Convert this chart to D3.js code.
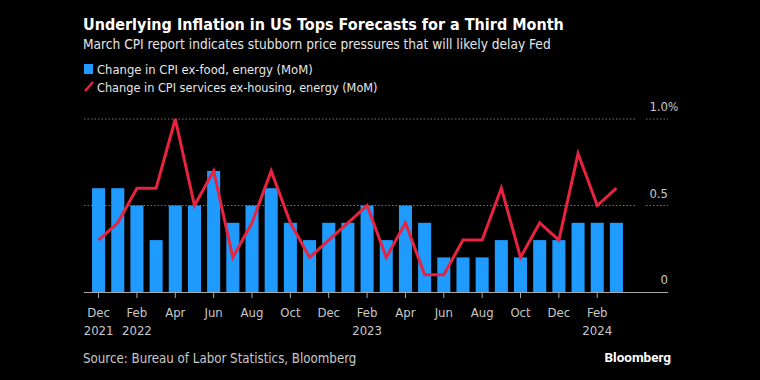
<!DOCTYPE html>
<html>
<head>
<meta charset="utf-8">
<script src="https://cdn.jsdelivr.net/npm/d3@7/dist/d3.min.js"></script>
<style>
  html, body { margin: 0; padding: 0; background: #000; }
  svg { display: block; }
  text { font-family: "DejaVu Sans Condensed", "DejaVu Sans", sans-serif; }
</style>
</head>
<body>
<svg id="chart" width="760" height="380"></svg>
<script>
// Months Dec 2021 .. Mar 2024
const months = [
  '2021-12', '2022-01', '2022-02', '2022-03', '2022-04', '2022-05', '2022-06',
  '2022-07', '2022-08', '2022-09', '2022-10', '2022-11', '2022-12',
  '2023-01', '2023-02', '2023-03', '2023-04', '2023-05', '2023-06',
  '2023-07', '2023-08', '2023-09', '2023-10', '2023-11', '2023-12',
  '2024-01', '2024-02', '2024-03'
];
// Core CPI ex-food, energy MoM (%)
const coreCpi = [
  0.6, 0.6, 0.5, 0.3, 0.5, 0.5, 0.7, 0.4, 0.5, 0.6, 0.4, 0.3, 0.4,
  0.4, 0.5, 0.3, 0.5, 0.4, 0.2, 0.2, 0.2, 0.3, 0.2, 0.3, 0.3,
  0.4, 0.4, 0.4
];
// Services ex-housing, energy MoM (%)
const superCore = [
  0.3, 0.4, 0.6, 0.6, 1.0, 0.5, 0.7, 0.2, 0.4, 0.7, 0.4, 0.2, 0.3,
  0.4, 0.5, 0.2, 0.4, 0.1, 0.1, 0.3, 0.3, 0.6, 0.2, 0.4, 0.3,
  0.8, 0.5, 0.6
];
const yTicks = [0, 0.5, 1.0];
const monthNames = ['Jan', 'Feb', 'Mar', 'Apr', 'May', 'Jun', 'Jul', 'Aug', 'Sep', 'Oct', 'Nov', 'Dec'];

const blue = '#1f9bff';
const red = '#e8233f';
const grey = '#c8c8c8';

const svg = d3.select('#chart');
svg.append('rect').attr('width', 760).attr('height', 380).attr('fill', '#000');

// Header
svg.append('text')
  .attr('x', 83).attr('y', 30)
  .attr('fill', '#fff').attr('font-size', 16).attr('font-weight', 'bold')
  .text('Underlying Inflation in US Tops Forecasts for a Third Month');
svg.append('text')
  .attr('x', 83).attr('y', 49)
  .attr('fill', '#e6e6e6').attr('font-size', 13.6)
  .text('March CPI report indicates stubborn price pressures that will likely delay Fed');

// Legend
svg.append('rect').attr('x', 84).attr('y', 64).attr('width', 9).attr('height', 10).attr('fill', blue);
svg.append('text').attr('x', 97).attr('y', 74).attr('fill', '#e6e6e6').attr('font-size', 12.9)
  .text('Change in CPI ex-food, energy (MoM)');
svg.append('line').attr('x1', 85).attr('y1', 91).attr('x2', 93).attr('y2', 82)
  .attr('stroke', red).attr('stroke-width', 2.5);
svg.append('text').attr('x', 97).attr('y', 92).attr('fill', '#e6e6e6').attr('font-size', 12.6)
  .text('Change in CPI services ex-housing, energy (MoM)');

// Scales
const x = d3.scaleBand().domain(months).range([84, 631]).paddingInner(0.32).paddingOuter(0.42);
const y = d3.scaleLinear().domain([0, 1]).range([292, 119]);
const plotRight = 668;

// Gridlines (dotted, with a break before the labels)
const grid = svg.append('g');
yTicks.filter(d => d > 0).forEach(d => {
  grid.append('line')
    .attr('x1', 84).attr('x2', 637).attr('y1', y(d)).attr('y2', y(d))
    .attr('stroke', '#777').attr('stroke-dasharray', '1.5,2');
  grid.append('line')
    .attr('x1', 646).attr('x2', plotRight).attr('y1', y(d)).attr('y2', y(d))
    .attr('stroke', '#777').attr('stroke-dasharray', '1.5,2');
});

// Y labels
yTicks.forEach(d => {
  svg.append('text')
    .attr('x', plotRight).attr('y', y(d) - 8)
    .attr('fill', grey).attr('font-size', 13).attr('text-anchor', 'end')
    .text(d === 0 ? '0' : d.toFixed(1));
  if (d === 1) {
    svg.append('text').attr('x', plotRight).attr('y', y(d) - 8)
      .attr('fill', grey).attr('font-size', 12).text('%');
  }
});

// Bars
svg.append('g').selectAll('rect')
  .data(months)
  .join('rect')
  .attr('x', d => x(d))
  .attr('width', x.bandwidth())
  .attr('y', (d, i) => y(coreCpi[i]))
  .attr('height', (d, i) => y(0) - y(coreCpi[i]))
  .attr('fill', blue);

// Line
const line = d3.line()
  .x((d, i) => x(months[i]) + x.bandwidth() / 2)
  .y(d => y(d));
svg.append('path')
  .datum(superCore)
  .attr('d', line)
  .attr('fill', 'none')
  .attr('stroke', red)
  .attr('stroke-width', 3)
  .attr('stroke-linejoin', 'miter');

// X axis
svg.append('line').attr('x1', 84).attr('x2', plotRight).attr('y1', y(0) + 0.5).attr('y2', y(0) + 0.5)
  .attr('stroke', '#aaa').attr('stroke-width', 1);

const axis = svg.append('g');
let lastYear = null;
months.forEach((m, i) => {
  if (i % 2 !== 0) return;
  const cx = x(m) + x.bandwidth() / 2;
  const [yr, mo] = m.split('-');
  axis.append('line').attr('x1', cx).attr('x2', cx).attr('y1', y(0) + 1).attr('y2', y(0) + 6)
    .attr('stroke', '#aaa');
  axis.append('text').attr('x', cx).attr('y', 317).attr('text-anchor', 'middle')
    .attr('fill', grey).attr('font-size', 13)
    .text(monthNames[+mo - 1]);
  if (yr !== lastYear) {
    axis.append('text').attr('x', cx).attr('y', 335).attr('text-anchor', 'middle')
      .attr('fill', grey).attr('font-size', 13)
      .text(yr);
    lastYear = yr;
  }
});

// Footer
svg.append('text').attr('x', 83).attr('y', 363)
  .attr('fill', grey).attr('font-size', 13.2)
  .text('Source: Bureau of Labor Statistics, Bloomberg');
svg.append('text').attr('x', 671).attr('y', 362).attr('text-anchor', 'end')
  .attr('fill', '#fff').attr('font-size', 13.5).attr('font-weight', 'bold')
  .style('font-family', 'Roboto, "Noto Sans", sans-serif')
  .text('Bloomberg');
</script>
</body>
</html>
